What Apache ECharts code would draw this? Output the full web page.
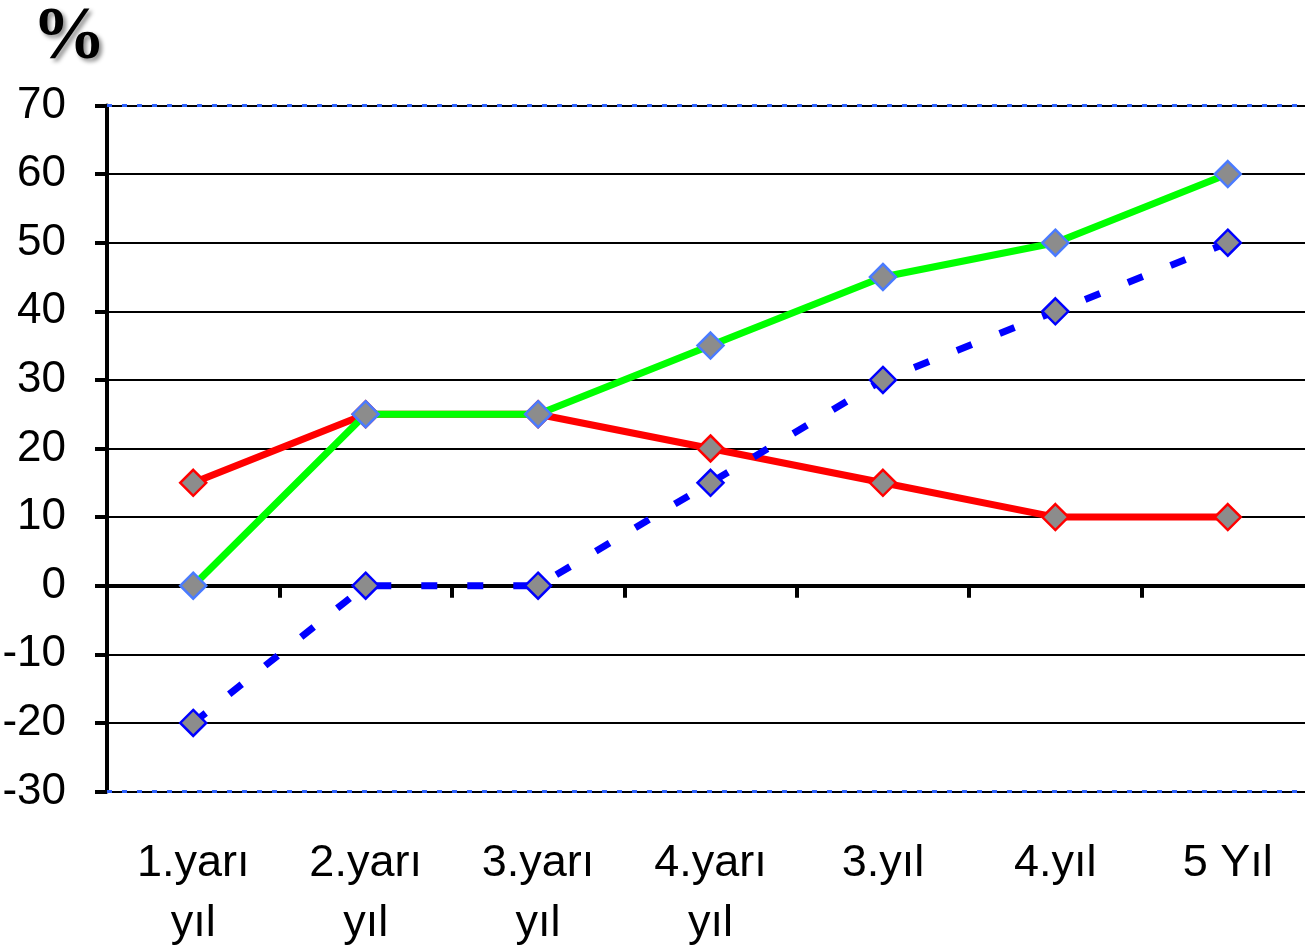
<!DOCTYPE html>
<html>
<head>
<meta charset="utf-8">
<script src="https://cdn.jsdelivr.net/npm/echarts@6/dist/echarts.min.js"></script>
<style>html,body{margin:0;padding:0;background:#fff}#c{width:1305px;height:947px}</style>
</head>
<body>
<div id="c"></div>
<script>
var categories = ['1.yarı\nyıl', '2.yarı\nyıl', '3.yarı\nyıl', '4.yarı\nyıl', '3.yıl', '4.yıl', '5 Yıl'];
var redValues = [15, 25, 25, 20, 15, 10, 10];
var greenValues = [0, 25, 25, 35, 45, 50, 60];
var blueValues = [-20, 0, 0, 15, 30, 40, 50];
var yMin = -30, yMax = 70, yStep = 10;

var chart = echarts.init(document.getElementById('c'));
var font = '"Liberation Sans", Arial, sans-serif';
function series(name, data, color, border, dashed, z) {
  return {
    name: name, type: 'line', data: data, xAxisIndex: 0, z: z,
    symbol: 'diamond', symbolSize: 26,
    lineStyle: { color: color, width: 7, type: dashed ? [16, 30] : 'solid' },
    itemStyle: { color: '#8c8c8c', borderColor: border, borderWidth: 2.5 },
    emphasis: { disabled: true }
  };
}
var s1 = series('red', redValues, '#ff0000', '#ff0000', false, 3);
s1.markLine = {
  silent: true, symbol: 'none', label: { show: false }, z: 1,
  lineStyle: { color: '#2f62ff', width: 3, type: [5, 10] },
  data: [{ yAxis: yMax }, { yAxis: yMin }]
};
var option = {
  animation: false,
  title: {
    text: '%', left: 27, top: -3,
    textStyle: { fontFamily: '"Liberation Serif", "DejaVu Serif", serif', fontWeight: 'bold', fontSize: 74, color: '#000',
      textShadowColor: 'rgba(0,0,0,0.45)', textShadowBlur: 4, textShadowOffsetX: 3, textShadowOffsetY: 3 }
  },
  grid: { left: 107, width: 1207, top: 105.5, bottom: 155.5, containLabel: false, outerBoundsMode: 'none' },
  xAxis: [{
    type: 'category', data: categories, position: 'bottom', boundaryGap: true,
    axisLine: { show: false, onZero: false }, axisTick: { show: false }, splitLine: { show: false },
    axisLabel: { color: '#000', fontFamily: font, fontSize: 45, lineHeight: 60, margin: 42, interval: 0 }
  }, {
    type: 'category', data: categories, position: 'top', boundaryGap: true,
    axisLine: { show: true, onZero: true, lineStyle: { color: '#000', width: 4 } },
    axisTick: { show: true, inside: true, length: 12, lineStyle: { color: '#000', width: 4 } },
    axisLabel: { show: false }, splitLine: { show: false }
  }],
  yAxis: {
    type: 'value', min: yMin, max: yMax, interval: yStep,
    axisLine: { show: true, onZero: false, lineStyle: { color: '#000', width: 4 } },
    axisTick: { show: true, length: 12, lineStyle: { color: '#000', width: 4 } },
    splitLine: { show: true, lineStyle: { color: '#000', width: 2 } },
    axisLabel: { color: '#000', fontFamily: font, fontSize: 44, margin: 41 }
  },
  series: [
    s1,
    series('green', greenValues, '#00ff00', '#4a7bff', false, 4),
    series('blue', blueValues, '#0000ff', '#0000ff', true, 5)
  ]
};
chart.setOption(option);
</script>
</body>
</html>
